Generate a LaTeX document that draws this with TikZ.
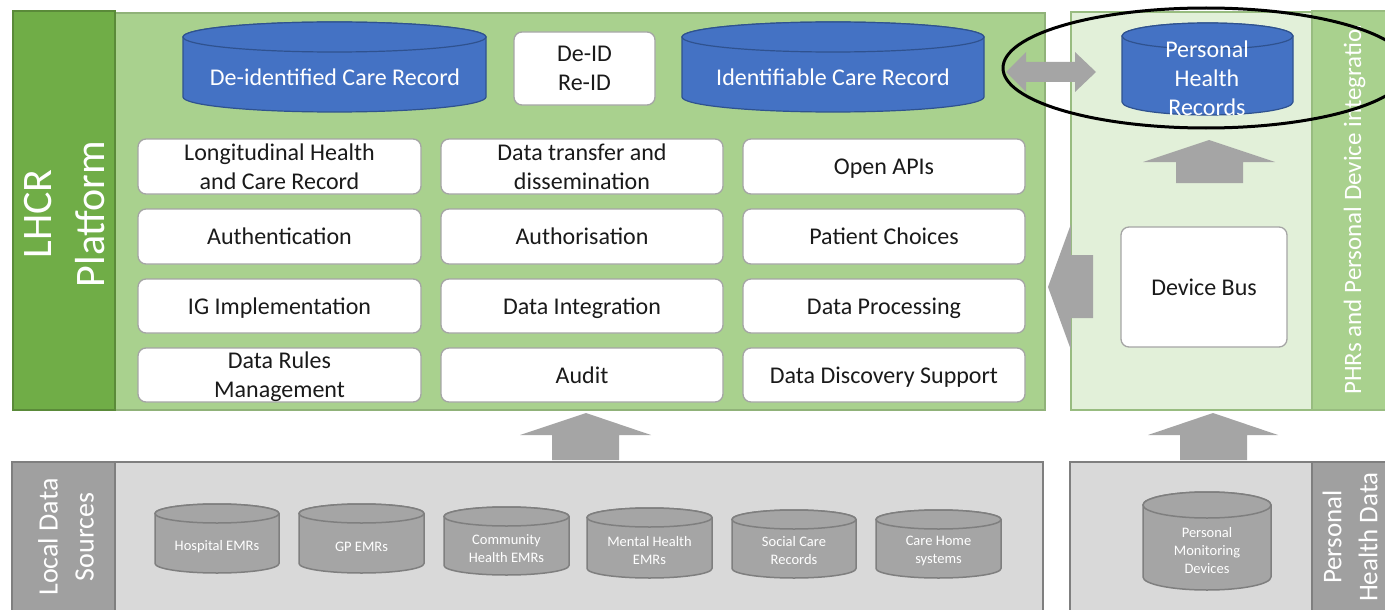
\documentclass[tikz,border=0pt]{standalone}
\usepackage{fontspec}
\setmainfont{Carlito}
\definecolor{dkgreen}{HTML}{70AD47}
\definecolor{ltgreen}{HTML}{A9D18E}
\definecolor{vlgreen}{HTML}{E2F0D9}
\definecolor{blueC}{HTML}{4472C4}
\definecolor{blueD}{HTML}{2F528F}
\definecolor{grayA}{HTML}{A5A5A5}
\definecolor{grayB}{HTML}{7F7F7F}
\definecolor{grayL}{HTML}{D9D9D9}
\definecolor{grayS}{HTML}{A0A0A0}
\definecolor{txt}{HTML}{1A1A1A}
\newcommand\drawcyl[6]{%
  \pgfmathsetmacro\cylrx{(#2-#1)/2}%
  \pgfmathsetmacro\cylcx{(#1+#2)/2}%
  \path[#6] (#1,{#3+#5}) -- (#1,{#4-#5}) arc[start angle=180,end angle=360,x radius=\cylrx pt,y radius=#5pt] -- (#2,{#3+#5}) arc[start angle=0,end angle=180,x radius=\cylrx pt,y radius=#5pt] -- cycle;
  \path[#6] (\cylcx,{#3+#5}) ellipse[x radius=\cylrx pt, y radius=#5pt];
}
\tikzset{
  box/.style={draw=grayA, line width=1.3pt, fill=white, rounded corners=8pt, text=txt,
    font=\fontsize{24}{29}\selectfont, align=center, inner sep=0pt, text depth=0pt},
  blockarrow/.style={fill=grayA, draw=none},
  cylblue/.style={fill=blueC, draw=blueD, line width=1.2pt},
  cylgray/.style={fill=grayA, draw=grayB, line width=1.5pt},
  bluetext/.style={text=white, font=\fontsize{24}{29}\selectfont, align=center, inner sep=0pt},
  graytext/.style={text=white, font=\fontsize{14.5}{18}\selectfont, align=center, inner sep=0pt},
  striplabel/.style={rotate=90, text=white, align=center, inner sep=0pt},
}
\begin{document}
\begin{tikzpicture}[x=1pt,y=-1pt]
\useasboundingbox (0,0) rectangle (1385,610);
\clip (0,0) rectangle (1385,610);
\fill[white] (0,0) rectangle (1385,610);

% ---- panels
\draw[fill=ltgreen, draw=ltgreen!85!black, line width=1.5pt] (115,13) rectangle (1045,410);
\draw[fill=dkgreen, draw=dkgreen!80!black, line width=1.5pt] (13,11) rectangle (115,410);
\draw[fill=vlgreen, draw=ltgreen!90!black, line width=1.5pt] (1071,12) rectangle (1312,410);
\draw[fill=ltgreen, draw=ltgreen!90!black, line width=1.5pt] (1312,11) rectangle (1392,410);
\draw[fill=grayL, draw=grayB, line width=1.5pt] (115,462) rectangle (1043,616);
\draw[fill=grayS, draw=grayB, line width=1.5pt] (12,462) rectangle (115,616);
\draw[fill=grayL, draw=grayB, line width=1.5pt] (1070,462) rectangle (1312,616);
\draw[fill=grayS, draw=grayB, line width=1.5pt] (1312,462) rectangle (1392,616);

% ---- up arrows between sections
\fill[blockarrow] (586,413) -- (651,435) -- (619,435) -- (619,460) -- (552,460) -- (552,435) -- (520,435) -- cycle;
\fill[blockarrow] (1213,413) -- (1278,435) -- (1247,435) -- (1247,460) -- (1180,460) -- (1180,435) -- (1148,435) -- cycle;
% up arrow inside right panel
\fill[blockarrow] (1209,140) -- (1275,162) -- (1243,162) -- (1243,183) -- (1176,183) -- (1176,162) -- (1143,162) -- cycle;
% left arrow into platform
\fill[blockarrow] (1048,287) -- (1071,224) -- (1071,255) -- (1093,255) -- (1093,318) -- (1071,318) -- (1071,350) -- cycle;

% ---- top cylinders
\drawcyl{183}{486}{22}{112}{15}{cylblue}
\node[bluetext] (deid) at (335,77) {De-identified Care Record};
\drawcyl{682}{984}{22}{112}{15}{cylblue}
\node[bluetext] (ident) at (833,77) {Identifiable Care Record};
\node[box, minimum width=141pt, minimum height=73pt] (deidreid) at (584.5,68.5) {De-ID\\Re-ID};

% ---- grid of boxes
\node[box, minimum width=283pt, minimum height=55pt] (lhcr) at (279.5,166.5) {Longitudinal Health\\and Care Record};
\node[box, minimum width=282pt, minimum height=55pt] (dtd) at (582,166.5) {Data transfer and\\dissemination};
\node[box, minimum width=282pt, minimum height=55pt] (apis) at (884,166.5) {Open APIs};
\node[box, minimum width=283pt, minimum height=55pt] (authn) at (279.5,236.5) {Authentication};
\node[box, minimum width=282pt, minimum height=55pt] (authz) at (582,236.5) {Authorisation};
\node[box, minimum width=282pt, minimum height=55pt] (choices) at (884,236.5) {Patient Choices};
\node[box, minimum width=283pt, minimum height=54pt] (ig) at (279.5,306) {IG Implementation};
\node[box, minimum width=282pt, minimum height=54pt] (integ) at (582,306) {Data Integration};
\node[box, minimum width=282pt, minimum height=54pt] (proc) at (884,306) {Data Processing};
\node[box, minimum width=283pt, minimum height=54pt] (rules) at (279.5,375) {Data Rules\\Management};
\node[box, minimum width=282pt, minimum height=54pt] (audit) at (582,375) {Audit};
\node[box, minimum width=282pt, minimum height=54pt] (disc) at (884,375) {Data Discovery Support};

% ---- right panel
\drawcyl{1122}{1293}{23}{115}{13}{cylblue}
\node[bluetext] (phr) at (1207,78) {Personal\\Health\\Records};
\node[box, minimum width=166pt, minimum height=120pt] (devbus) at (1204,287) {Device Bus};

% double arrow
\fill[blockarrow] (1006,72) -- (1026,52) -- (1026,62) -- (1075,62) -- (1075,52) -- (1096,72) -- (1075,92) -- (1075,82) -- (1026,82) -- (1026,92) -- cycle;

% ---- bottom cylinders
\drawcyl{155}{279}{504}{573}{9.5}{cylgray}
\node[graytext] (hosp) at (217,547) {Hospital EMRs};
\drawcyl{299}{424}{504}{573}{9.5}{cylgray}
\node[graytext] (gp) at (361.5,547) {GP EMRs};
\drawcyl{444}{569}{507}{575}{9.5}{cylgray}
\node[graytext] (comm) at (506.5,549) {Community\\Health EMRs};
\drawcyl{587}{712}{508}{578}{9.5}{cylgray}
\node[graytext] (mental) at (649.5,551) {Mental Health\\EMRs};
\drawcyl{732}{856}{510}{578}{9.5}{cylgray}
\node[graytext] (social) at (794,551) {Social Care\\Records};
\drawcyl{876}{1001}{510}{578}{9.5}{cylgray}
\node[graytext] (carehome) at (938.5,551) {Care Home\\systems};
\drawcyl{1143}{1271}{492}{590}{13}{cylgray}
\node[graytext] (pmd) at (1207,551) {Personal\\Monitoring\\Devices};

% ---- strip labels
\node[striplabel, font=\fontsize{42}{53}\selectfont] (lhcrlbl) at (65,214) {LHCR\\Platform};
\node[striplabel, font=\fontsize{28}{36}\selectfont] (locallbl) at (66,537) {Local Data\\Sources};
\node[striplabel, font=\fontsize{27}{36}\selectfont] (pdlbl) at (1350,537) {Personal\\Health Data};
\begin{scope}
\clip (1312,27) rectangle (1392,410);
\node[rotate=90, anchor=base west, text=white, font=\fontsize{25}{30}\selectfont, inner sep=0pt] (phrlbl) at (1361,395) {PHRs and Personal Device integration};
\end{scope}

% ---- highlight ellipse
\draw[black, line width=3pt] (1206,68) ellipse[x radius=203, y radius=60];
\end{tikzpicture}
\end{document}
